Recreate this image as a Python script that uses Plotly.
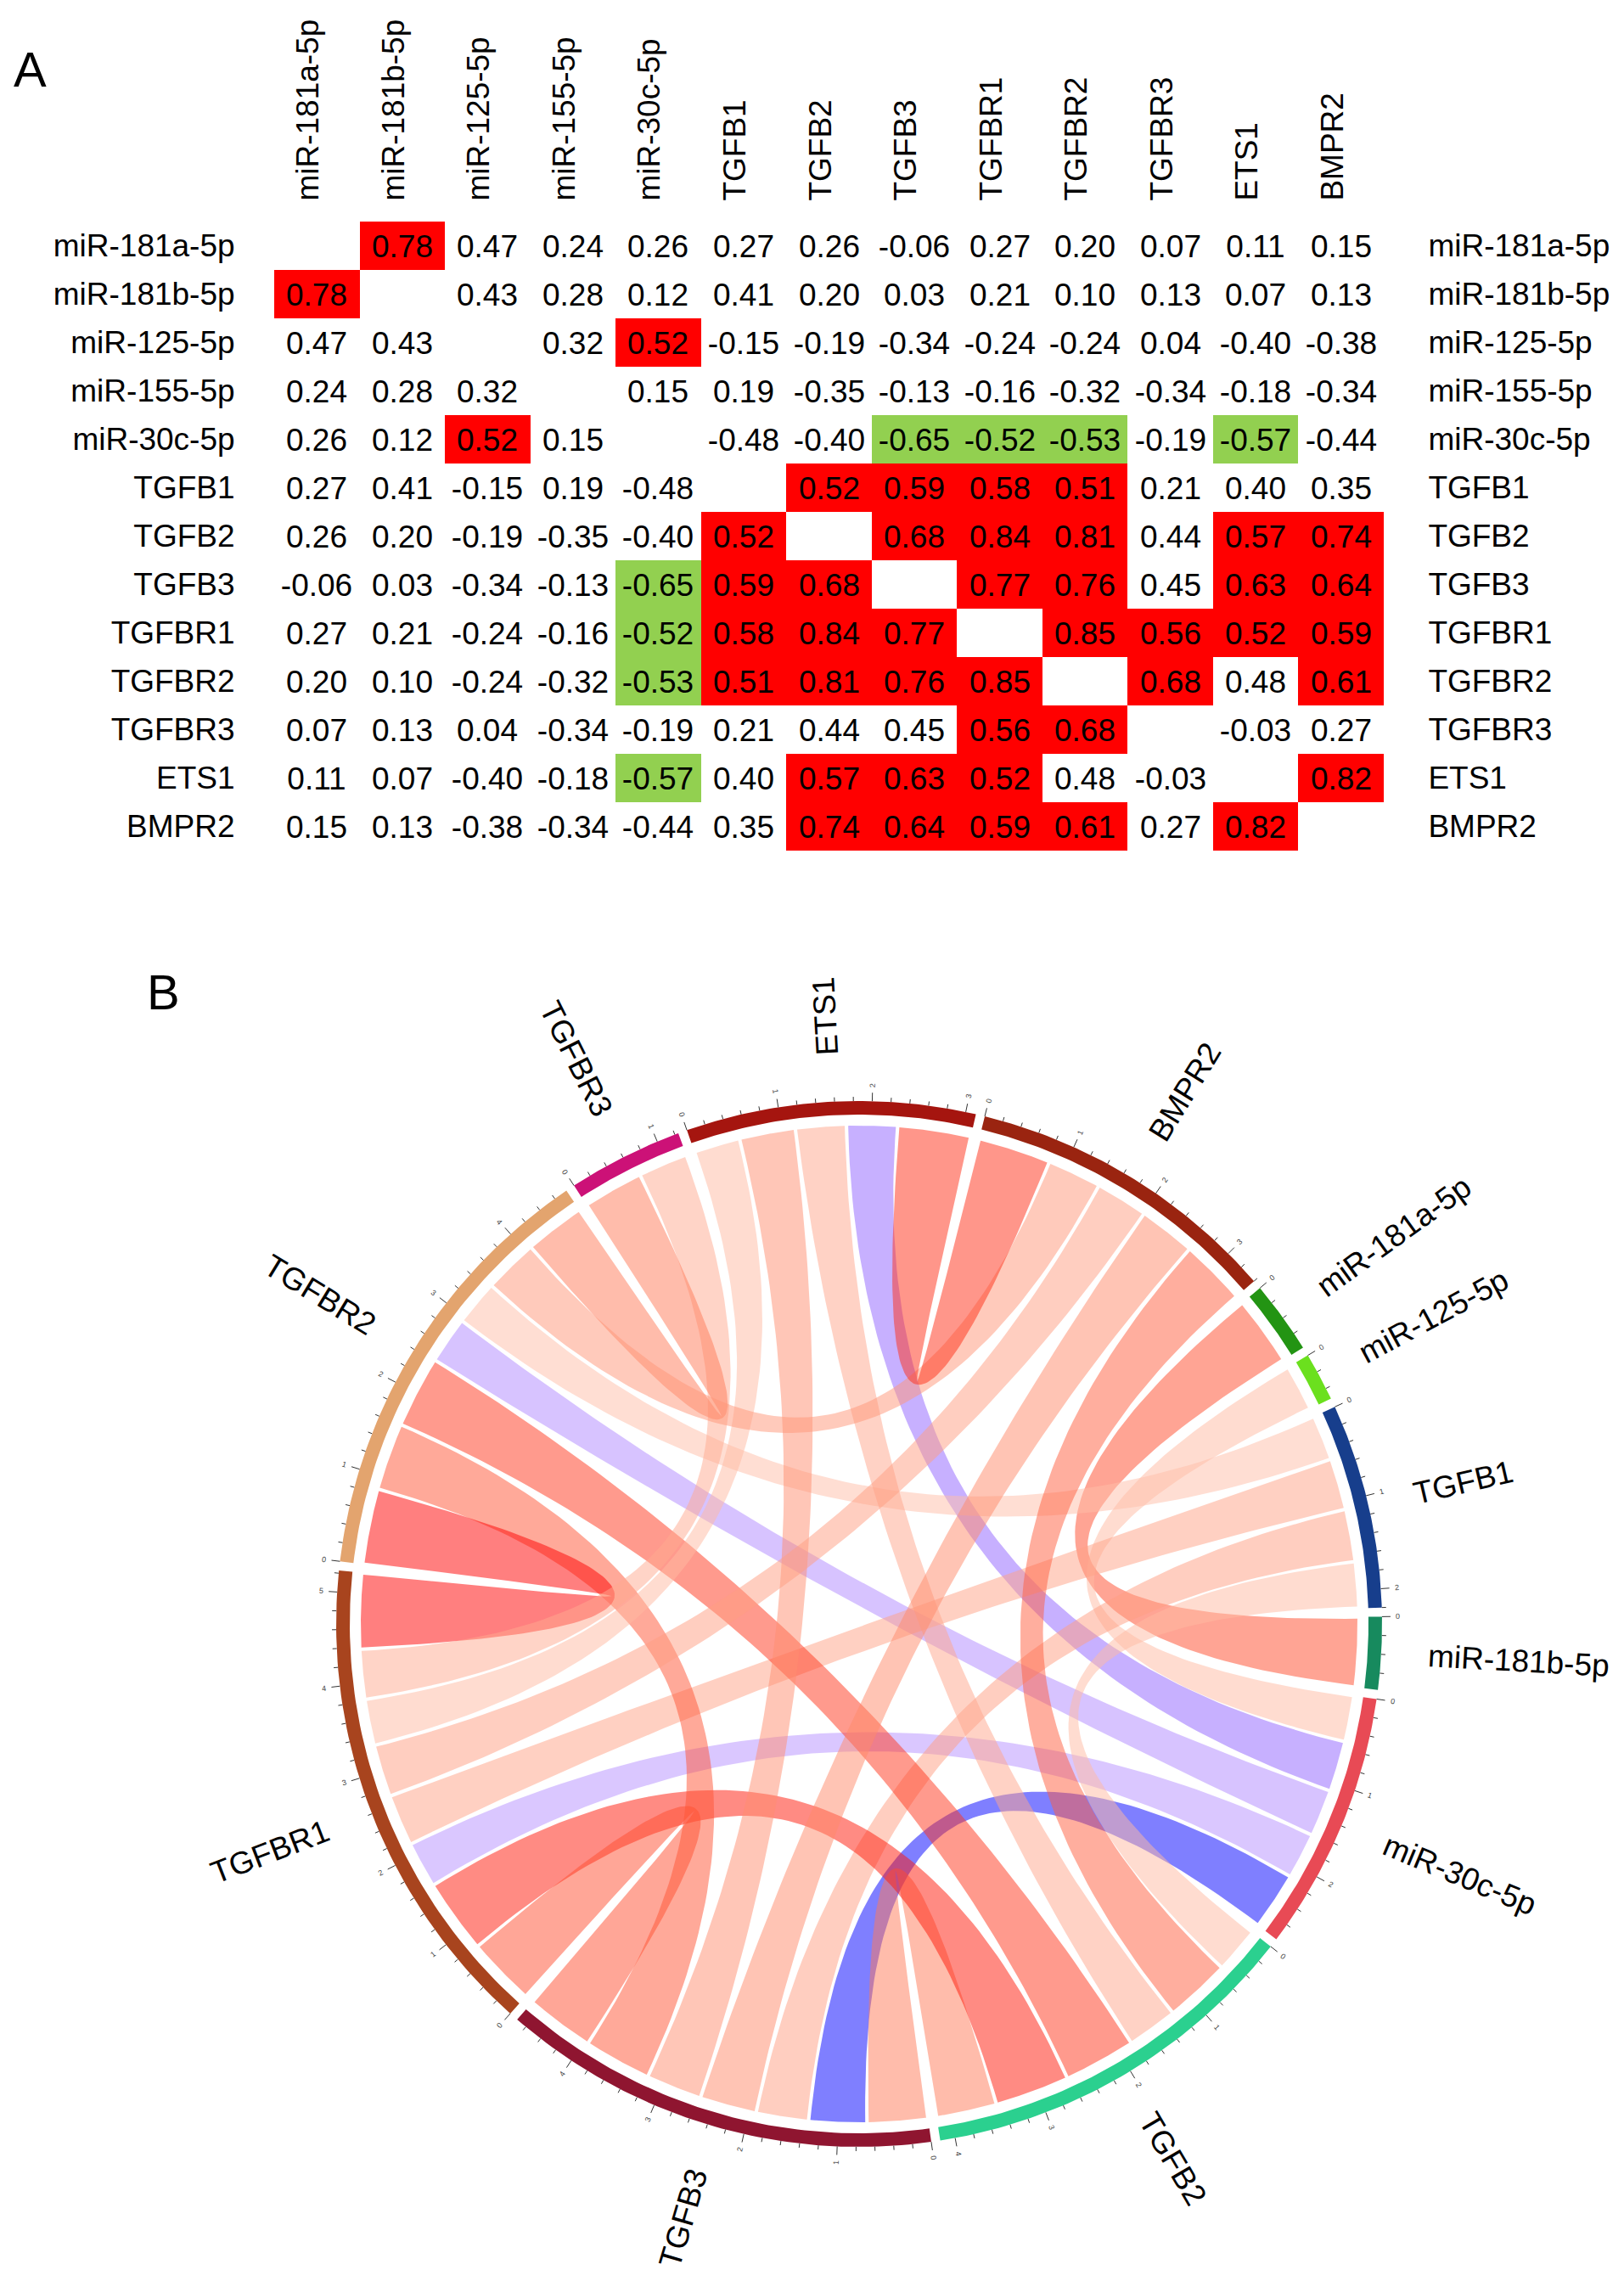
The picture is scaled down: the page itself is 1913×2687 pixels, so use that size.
import numpy as np
import plotly.graph_objects as go

# ---------------------------------------------------
# Dados: matriz de correlação (painel A)

genes = ["miR-181a-5p", "miR-181b-5p", "miR-125-5p", "miR-155-5p", "miR-30c-5p",
         "TGFB1", "TGFB2", "TGFB3", "TGFBR1", "TGFBR2", "TGFBR3", "ETS1", "BMPR2"]

r_mir181a = [None, 0.78, 0.47, 0.24, 0.26, 0.27, 0.26, -0.06, 0.27, 0.20, 0.07, 0.11, 0.15]
r_mir181b = [0.78, None, 0.43, 0.28, 0.12, 0.41, 0.20, 0.03, 0.21, 0.10, 0.13, 0.07, 0.13]
r_mir125 = [0.47, 0.43, None, 0.32, 0.52, -0.15, -0.19, -0.34, -0.24, -0.24, 0.04, -0.40, -0.38]
r_mir155 = [0.24, 0.28, 0.32, None, 0.15, 0.19, -0.35, -0.13, -0.16, -0.32, -0.34, -0.18, -0.34]
r_mir30c = [0.26, 0.12, 0.52, 0.15, None, -0.48, -0.40, -0.65, -0.52, -0.53, -0.19, -0.57, -0.44]
r_tgfb1 = [0.27, 0.41, -0.15, 0.19, -0.48, None, 0.52, 0.59, 0.58, 0.51, 0.21, 0.40, 0.35]
r_tgfb2 = [0.26, 0.20, -0.19, -0.35, -0.40, 0.52, None, 0.68, 0.84, 0.81, 0.44, 0.57, 0.74]
r_tgfb3 = [-0.06, 0.03, -0.34, -0.13, -0.65, 0.59, 0.68, None, 0.77, 0.76, 0.45, 0.63, 0.64]
r_tgfbr1 = [0.27, 0.21, -0.24, -0.16, -0.52, 0.58, 0.84, 0.77, None, 0.85, 0.56, 0.52, 0.59]
r_tgfbr2 = [0.20, 0.10, -0.24, -0.32, -0.53, 0.51, 0.81, 0.76, 0.85, None, 0.68, 0.48, 0.61]
r_tgfbr3 = [0.07, 0.13, 0.04, -0.34, -0.19, 0.21, 0.44, 0.45, 0.56, 0.68, None, -0.03, 0.27]
r_ets1 = [0.11, 0.07, -0.40, -0.18, -0.57, 0.40, 0.57, 0.63, 0.52, 0.48, -0.03, None, 0.82]
r_bmpr2 = [0.15, 0.13, -0.38, -0.34, -0.44, 0.35, 0.74, 0.64, 0.59, 0.61, 0.27, 0.82, None]

corr = [r_mir181a, r_mir181b, r_mir125, r_mir155, r_mir30c, r_tgfb1, r_tgfb2,
        r_tgfb3, r_tgfbr1, r_tgfbr2, r_tgfbr3, r_ets1, r_bmpr2]

limiar = 0.5  # |r| >= 0.5 -> célula destacada e corda no painel B

# Dados do diagrama de cordas (painel B)
ordem_setores = ["miR-181b-5p", "miR-30c-5p", "TGFB2", "TGFB3", "TGFBR1", "TGFBR2",
                 "TGFBR3", "ETS1", "BMPR2", "miR-181a-5p", "miR-125-5p", "TGFB1"]
cores_setores = ["#178A5E", "#E84A55", "#2BD08F", "#8F1530", "#A8441E", "#E3A46E",
                 "#CC1177", "#A5150F", "#9A2410", "#239413", "#6BE01E", "#173E8C"]

# escala de cor das cordas: branco -> cor cheia
branco_neg, cheio_neg = -0.40, -0.65
branco_pos, cheio_pos = 0.33, 0.85

FONTE = "Liberation Sans, Arial, sans-serif"
W, H = 1913, 2687

# ---------------------------------------------------
# Conversões de cor (interpolação em LAB, como no circlize)

def srgb_to_lab(hexcor):
    c = np.array([int(hexcor[i:i + 2], 16) for i in (1, 3, 5)]) / 255.0
    lin = np.where(c <= 0.04045, c / 12.92, ((c + 0.055) / 1.055) ** 2.4)
    M = np.array([[0.4124, 0.3576, 0.1805], [0.2126, 0.7152, 0.0722], [0.0193, 0.1192, 0.9505]])
    t = (M @ lin) / np.array([0.95047, 1.0, 1.08883])
    f = np.where(t > (6 / 29) ** 3, np.cbrt(t), t / (3 * (6 / 29) ** 2) + 4 / 29)
    return np.array([116 * f[1] - 16, 500 * (f[0] - f[1]), 200 * (f[1] - f[2])])

def lab_to_rgb(lab):
    fy = (lab[0] + 16) / 116
    f = np.array([fy + lab[1] / 500, fy, fy - lab[2] / 200])
    t = np.where(f > 6 / 29, f ** 3, 3 * (6 / 29) ** 2 * (f - 4 / 29))
    xyz = t * np.array([0.95047, 1.0, 1.08883])
    Minv = np.array([[3.2406, -1.5372, -0.4986], [-0.9689, 1.8758, 0.0415], [0.0557, -0.2040, 1.0570]])
    lin = np.clip(Minv @ xyz, 0, 1)
    c = np.where(lin <= 0.0031308, 12.92 * lin, 1.055 * lin ** (1 / 2.4) - 0.055)
    return np.round(np.clip(c, 0, 1) * 255).astype(int)

LAB_BRANCO = srgb_to_lab("#FFFFFF")
LAB_VERMELHO = srgb_to_lab("#FF0000")
LAB_AZUL = srgb_to_lab("#0000FF")

def cor_corda(v):
    if v > 0:
        t = np.clip((v - branco_pos) / (cheio_pos - branco_pos), 0, 1)
        alvo = LAB_VERMELHO
    else:
        t = np.clip((v - branco_neg) / (cheio_neg - branco_neg), 0, 1)
        alvo = LAB_AZUL
    r, g, b = lab_to_rgb(LAB_BRANCO + t * (alvo - LAB_BRANCO))
    return f"rgba({r},{g},{b},0.5)"

# largura aproximada do texto (métrica Arial)
LARG = {'m': .833, 'i': .222, 'R': .722, '-': .333, 'a': .556, 'b': .556, 'c': .5, 'p': .556,
        'T': .611, 'G': .778, 'F': .611, 'B': .667, 'E': .667, 'S': .667, 'M': .833, 'P': .667}

def largura_texto(s, tam):
    return sum(LARG.get(ch, 0.556) for ch in s) * tam

def angulo_texto(theta):
    th = theta % 360
    if 95 < th < 275:
        return 180 - th, True
    ang = -th
    while ang <= -180:
        ang += 360
    return ang, False

fig = go.Figure()

# ---------------------------------------------------
# Painel A: tabela de correlações

n = len(genes)
cat = [[0 if (v is None or abs(v) < limiar) else (1 if v > 0 else -1) for v in linha] for linha in corr]
txt = [["" if v is None else f"{v:.2f}" for v in linha] for linha in corr]

fig.add_trace(go.Heatmap(
    x=list(range(n)), y=list(range(n)), z=cat, text=txt, texttemplate="%{text}",
    textfont=dict(size=37, color="black", family=FONTE),
    colorscale=[[0, "#92D050"], [0.333, "#92D050"], [0.334, "white"], [0.666, "white"],
                [0.667, "#FF0000"], [1, "#FF0000"]],
    zmin=-1.5, zmax=1.5, showscale=False, hoverinfo="skip", xaxis="x", yaxis="y"))

# traço invisível só para ativar o eixo de rótulos da direita
fig.add_trace(go.Scatter(x=[0] * n, y=list(range(n)), mode="markers", marker=dict(opacity=0),
                         showlegend=False, hoverinfo="skip", xaxis="x", yaxis="y3"))

# ---------------------------------------------------
# Painel B: diagrama de cordas

ligacoes = []
for i in range(n):
    for j in range(i + 1, n):
        v = corr[i][j]
        if v is not None and abs(v) >= limiar:
            ligacoes.append((genes[i], genes[j], v))

ns = len(ordem_setores)
pos = {g: k for k, g in enumerate(ordem_setores)}
total_setor = {g: 0.0 for g in ordem_setores}
for a, b, v in ligacoes:
    total_setor[a] += abs(v)
    total_setor[b] += abs(v)

gap = 1.0
inicio = 0.8
grau_por_unidade = (360 - ns * gap) / sum(total_setor.values())

ini_setor, fim_setor = {}, {}
th = inicio
for g in ordem_setores:
    ini_setor[g] = th
    fim_setor[g] = th - total_setor[g] * grau_por_unidade
    th = fim_setor[g] - gap

# posição de cada ligação dentro do setor (pequena folga branca entre cordas vizinhas)
folga = 0.2
faixa = {}
for g in ordem_setores:
    i = pos[g]
    minhas = [(k, b if a == g else a, abs(v)) for k, (a, b, v) in enumerate(ligacoes) if g in (a, b)]
    minhas.sort(key=lambda m: (i - pos[m[1]]) % ns)
    th = ini_setor[g]
    for k, outro, w in minhas:
        faixa[(k, g)] = (th - folga, th - w * grau_por_unidade + folga)
        th -= w * grau_por_unidade

R_EXT, R_INT, R_LIG = 616, 600, 587

def arco(r, t1, t2, npts=60):
    t = np.radians(np.linspace(t1, t2, npts))
    return r * np.cos(t), r * np.sin(t)

def bezier(t1, t2, r, npts=80):
    p0 = np.array([np.cos(np.radians(t1)), np.sin(np.radians(t1))]) * r
    p2 = np.array([np.cos(np.radians(t2)), np.sin(np.radians(t2))]) * r
    s = np.linspace(0, 1, npts)[:, None]
    pts = (1 - s) ** 2 * p0 + s ** 2 * p2
    return pts[:, 0], pts[:, 1]

for k, (a, b, v) in enumerate(ligacoes):
    a1, a2 = faixa[(k, a)]
    b1, b2 = faixa[(k, b)]
    partes = [arco(R_LIG, a1, a2), bezier(a2, b1, R_LIG), arco(R_LIG, b1, b2), bezier(b2, a1, R_LIG)]
    xs = np.concatenate([p[0] for p in partes])
    ys = np.concatenate([p[1] for p in partes])
    fig.add_trace(go.Scatter(x=xs, y=ys, mode="lines", fill="toself", fillcolor=cor_corda(v),
                             line=dict(width=0), hoverinfo="skip", showlegend=False,
                             xaxis="x2", yaxis="y2"))

# trilha dos setores
for g, cor in zip(ordem_setores, cores_setores):
    xo, yo = arco(R_EXT, ini_setor[g], fim_setor[g])
    xi, yi = arco(R_INT, fim_setor[g], ini_setor[g])
    fig.add_trace(go.Scatter(x=np.concatenate([xo, xi]), y=np.concatenate([yo, yi]),
                             mode="lines", fill="toself", fillcolor=cor, line=dict(width=0),
                             hoverinfo="skip", showlegend=False, xaxis="x2", yaxis="y2"))

# marcas do eixo de cada setor
tx, ty = [], []
anotacoes = []
for g in ordem_setores:
    nmarcas = int(np.floor(total_setor[g] / 0.2 + 1e-6))
    for m in range(nmarcas + 1):
        th = np.radians(ini_setor[g] - m * 0.2 * grau_por_unidade)
        comp = 10 if m % 5 == 0 else 5
        tx += [R_EXT * np.cos(th), (R_EXT + comp) * np.cos(th), None]
        ty += [R_EXT * np.sin(th), (R_EXT + comp) * np.sin(th), None]
        if m % 5 == 0:
            ang, _ = angulo_texto(np.degrees(th))
            anotacoes.append(dict(x=(R_EXT + 19) * np.cos(th), y=(R_EXT + 19) * np.sin(th),
                                  text=str(m // 5), textangle=ang, showarrow=False,
                                  font=dict(size=9, color="#444444", family=FONTE),
                                  xref="x2", yref="y2", xanchor="center", yanchor="middle"))
fig.add_trace(go.Scatter(x=tx, y=ty, mode="lines", line=dict(color="#333333", width=1),
                         hoverinfo="skip", showlegend=False, xaxis="x2", yaxis="y2"))

# nomes dos setores
TAM_ROT = 37
for g in ordem_setores:
    meio = (ini_setor[g] + fim_setor[g]) / 2
    ang, _ = angulo_texto(meio)
    rc = R_EXT + 55 + largura_texto(g, TAM_ROT) / 2
    t = np.radians(meio)
    anotacoes.append(dict(x=rc * np.cos(t), y=rc * np.sin(t), text=g, textangle=ang,
                          showarrow=False, font=dict(size=TAM_ROT, color="black", family=FONTE),
                          xref="x2", yref="y2", xanchor="center", yanchor="middle"))

# letras dos painéis
for letra, px, py in [("A", 27, 74), ("B", 184, 1160)]:
    anotacoes.append(dict(x=px / W, y=1 - py / H, text=letra, showarrow=False,
                          xref="paper", yref="paper", xanchor="center", yanchor="middle",
                          font=dict(size=58, color="black", family=FONTE)))

# ---------------------------------------------------
# Layout

cx, cy = 1004, 1905
alt_b = 1650
topo_tab, base_tab = 253, 994
eixo_tab = dict(showgrid=False, zeroline=False, showline=False, ticks="outside",
                tickcolor="rgba(0,0,0,0)", tickvals=list(range(n)), ticktext=genes,
                tickfont=dict(size=37, color="black", family=FONTE))

fig.update_layout(
    width=W, height=H, margin=dict(l=0, r=0, t=0, b=0),
    paper_bgcolor="white", plot_bgcolor="white", showlegend=False,
    font=dict(family=FONTE, color="black"),
    xaxis=dict(domain=[315 / W, 1622 / W], anchor="y", side="top", tickangle=-90,
               range=[-0.5, n - 0.5], ticklen=16, ticklabelshift=-10, **eixo_tab),
    yaxis=dict(domain=[1 - base_tab / H, 1 - topo_tab / H], anchor="x", range=[n - 0.5, -0.5],
               ticklen=38, **eixo_tab),
    yaxis3=dict(overlaying="y", side="right", anchor="x", range=[n - 0.5, -0.5],
                ticklen=44, **eixo_tab),
    xaxis2=dict(domain=[0, 1], anchor="y2", range=[-cx, W - cx], visible=False),
    yaxis2=dict(domain=[0, alt_b / H], anchor="x2", range=[-(H - cy), alt_b - (H - cy)], visible=False),
    annotations=anotacoes,
)

fig.write_html("out.html")
